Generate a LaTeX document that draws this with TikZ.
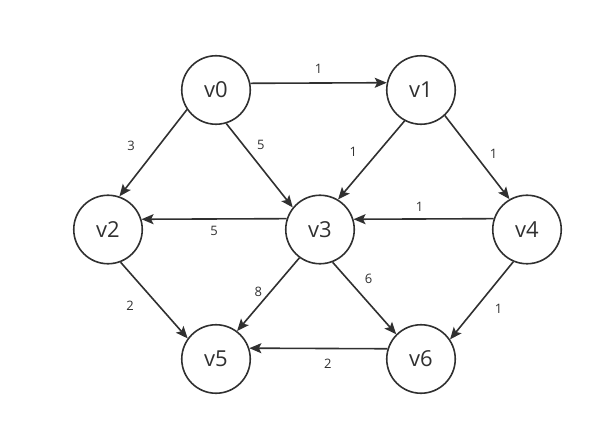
\documentclass[tikz,border=0pt]{standalone}
\usepackage{fontspec}
\setmainfont{Open Sans}
\usetikzlibrary{arrows.meta}
\definecolor{ink}{HTML}{303030}

\begin{document}
\begin{tikzpicture}[x=1pt,y=-1pt,
  vert/.style={draw=ink,line width=1.6pt,circle,minimum size=68.5pt,inner sep=0pt,
    font=\fontsize{22}{24}\selectfont,text=ink},
  edge/.style={draw=ink,line width=1.6pt,-{Stealth[length=12pt,width=10pt,inset=2.5pt]}},
  wt/.style={font=\fontsize{13}{15}\selectfont,text=ink,inner sep=1pt}]
\useasboundingbox (0,0) rectangle (612,427);

% vertices, row by row
\node[vert] (v0) at (216,90) {v0};
\node[vert] (v1) at (421,90) {v1};
\node[vert] (v2) at (108,229.5) {v2};
\node[vert] (v3) at (320,229.5) {v3};
\node[vert] (v4) at (527,229.5) {v4};
\node[vert] (v5) at (216,359) {v5};
\node[vert] (v6) at (421,359) {v6};

% weighted edges
\draw[edge] (v0.11.5) -- node[wt,yshift=14pt] {1} (v1.168.5);
\draw[edge] (v0.214) -- node[wt,xshift=-22pt,yshift=7pt] {3} (v2.71);
\draw[edge] (v0.287.5) -- node[wt,pos=.25,xshift=18pt] {5} (v3.141);
\draw[edge] (v1.242) -- node[wt,xshift=-18pt,yshift=8pt] {1} (v3.59);
\draw[edge] (v1.313) -- node[wt,xshift=16.5pt,yshift=4pt] {1} (v4.120);
\draw[edge] (v3.162.5) -- node[wt,yshift=-12pt] {5} (v2.17.5);
\draw[edge] (v4.162.5) -- node[wt,xshift=-4pt,yshift=12pt] {1} (v3.17.5);
\draw[edge] (v2.291) -- node[wt,xshift=-24pt,yshift=-5.5pt] {2} (v5.144);
\draw[edge] (v3.234) -- node[wt,xshift=-10pt,yshift=3pt] {8} (v5.53);
\draw[edge] (v3.291) -- node[wt,pos=.3,xshift=17pt,yshift=5pt] {6} (v6.135);
\draw[edge] (v4.247) -- node[wt,xshift=17pt,yshift=-8.5pt] {1} (v6.34);
\draw[edge] (v6.163) -- node[wt,xshift=9.5pt,yshift=-15.5pt] {2} (v5.18);
\end{tikzpicture}
\end{document}
